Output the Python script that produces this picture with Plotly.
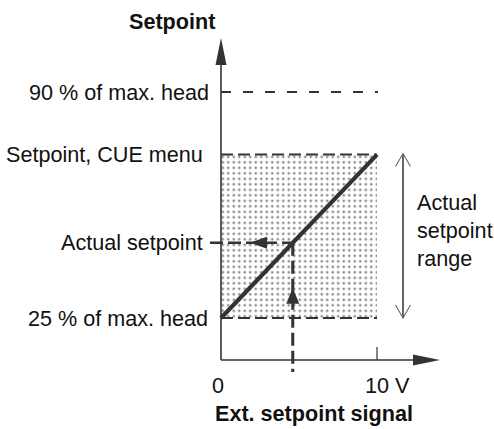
import plotly.graph_objects as go

# ---- values -------------------------------------------------------------
signal_range = [0, 10]            # ext. setpoint signal, V
head_limits = [25, 90]            # % of max. head
cue_setpoint = 72                 # setpoint set in the CUE menu, % of max. head
ext_signal = 4.6                  # present ext. setpoint signal, V
x_tick_labels = ["0", "10 V"]
level_labels = ["90 % of max. head", "Setpoint, CUE menu",
                "Actual setpoint", "25 % of max. head"]
range_label = "Actual<br>setpoint<br>range"
x_title = "Ext. setpoint signal"
y_title = "Setpoint"

low, high = head_limits
sig0, sig1 = signal_range
# setpoint follows the signal linearly between 25 % and the CUE value
actual_setpoint = low + (cue_setpoint - low) * (ext_signal - sig0) / (sig1 - sig0)

# ---- scales -------------------------------------------------------------
W, H = 494, 429
PX_PER_V = 15.6
PX_PER_PCT = 3.477
X0_PX = 221        # pixel column of 0 V
YLOW_PX = 318      # pixel row of the 25 % level


def dx(px):
    return px / PX_PER_V


def dy(px):
    return px / PX_PER_PCT


x_range = [sig0 - dx(X0_PX), sig0 + dx(W - X0_PX)]
y_range = [low - dy(H - YLOW_PX), low + dy(YLOW_PX)]

INK = "#333333"
TEXT = "#111111"
FONT = "Liberation Sans, Arial, sans-serif"
FS = 21.6

axis_y = low - dy(42)             # level of the horizontal axis
y_tip = high + dy(54)             # top of vertical axis arrow
x_tip = sig1 + dx(63)             # end of horizontal axis arrow
range_x = sig1 + dx(26)           # double arrow on the right


def tri(tx, ty, direction, length, half):
    """Filled arrow head with its tip at (tx, ty); sizes in pixels."""
    if direction == "up":
        pts = [(tx, ty), (tx - dx(half), ty - dy(length)), (tx + dx(half), ty - dy(length))]
    elif direction == "down":
        pts = [(tx, ty), (tx - dx(half), ty + dy(length)), (tx + dx(half), ty + dy(length))]
    elif direction == "left":
        pts = [(tx, ty), (tx + dx(length), ty + dy(half)), (tx + dx(length), ty - dy(half))]
    else:
        pts = [(tx, ty), (tx - dx(length), ty + dy(half)), (tx - dx(length), ty - dy(half))]
    return "M " + " L ".join(f"{x},{y}" for x, y in pts) + " Z"


def vee(tx, ty, direction, length, half):
    """Open V arrow head."""
    s = -1 if direction == "up" else 1
    return (f"M {tx - dx(half)},{ty + s * dy(length)} L {tx},{ty} "
            f"L {tx + dx(half)},{ty + s * dy(length)}")


fig = go.Figure()

# stippled band of possible setpoints
fig.add_trace(go.Scatter(
    x=[sig0, sig1, sig1, sig0, sig0], y=[low, low, cue_setpoint, cue_setpoint, low],
    mode="lines", fill="toself", fillcolor="white", line=dict(width=0),
    fillpattern=dict(shape=".", size=5.5, solidity=0.2, fgcolor="#1e1e1e", bgcolor="white"),
    hoverinfo="skip"))


def seg(xs, ys, width, dash="solid", color=INK):
    fig.add_trace(go.Scatter(x=xs, y=ys, mode="lines", hoverinfo="skip",
                             line=dict(color=color, width=width, dash=dash)))


# 90 % limit
seg([sig0, sig1 + dx(1)], [high, high], 2, "10px,12px")
# band borders
seg([sig0, sig1], [cue_setpoint, cue_setpoint], 2, "12px,5px")
seg([sig0, sig1], [low, low], 2, "12px,5px")
# read-off lines
seg([sig0 - dx(11), ext_signal], [actual_setpoint, actual_setpoint], 2.5, "13px,5px")
seg([ext_signal, ext_signal], [actual_setpoint, axis_y - dy(12)], 3, "13px,5px")
# characteristic
seg([sig0, sig1], [low, cue_setpoint], 4.2)
# axes
seg([sig0, sig0], [axis_y, y_tip - dy(20)], 1.6)
seg([sig0, x_tip - dx(20)], [axis_y, axis_y], 1.6)
seg([sig1, sig1], [axis_y, axis_y + dy(13)], 1.2)
# actual setpoint range
seg([range_x, range_x], [low, cue_setpoint], 1.2, color="#000000")

shapes = [
    dict(type="path", path=tri(sig0, y_tip, "up", 27, 5.5), fillcolor=INK, line=dict(width=0)),
    dict(type="path", path=tri(x_tip, axis_y, "right", 27, 5.5), fillcolor=INK, line=dict(width=0)),
    dict(type="path", path=tri(sig0 + dx(29), actual_setpoint, "left", 17, 6),
         fillcolor=INK, line=dict(width=0)),
    dict(type="path", path=tri(ext_signal, actual_setpoint - dy(45), "up", 16, 6.5),
         fillcolor=INK, line=dict(width=0)),
    dict(type="path", path=vee(range_x, cue_setpoint + dy(1), "up", 13, 7.5),
         line=dict(color="#666666", width=1.1)),
    dict(type="path", path=vee(range_x, low, "down", 13, 7.5),
         line=dict(color="#666666", width=1.1)),
]
for s in shapes:
    s.update(xref="x", yref="y", layer="above")

ann = []


def label(text, x, y, xanchor="center", xshift=0, yshift=0, bold=False, align="left"):
    ann.append(dict(text=f"<b>{text}</b>" if bold else text, x=x, y=y, xref="x", yref="y",
                    xanchor=xanchor, yanchor="middle", xshift=xshift, yshift=yshift,
                    showarrow=False, align=align,
                    font=dict(family=FONT, size=FS, color=TEXT)))


level_values = [high, cue_setpoint, actual_setpoint, low]
level_shifts = [-10, -16, -16, -11]
for txt, val, sh in zip(level_labels, level_values, level_shifts):
    label(txt, sig0, val, xanchor="right", xshift=sh)

label(y_title, sig0, y_tip, xanchor="right", xshift=-4, yshift=17, bold=True)
label(x_tick_labels[0], sig0, axis_y, xshift=-3, yshift=-25)
label(x_tick_labels[1], sig1, axis_y, xanchor="left", xshift=-14, yshift=-25)
label(x_title, (sig0 + sig1) / 2, axis_y, xshift=15, yshift=-53, bold=True)
label(range_label, range_x, (low + cue_setpoint) / 2, xanchor="left", xshift=12, yshift=6)

fig.update_layout(
    width=W, height=H, margin=dict(l=0, r=0, t=0, b=0),
    paper_bgcolor="white", plot_bgcolor="white", showlegend=False,
    xaxis=dict(range=x_range, visible=False, fixedrange=True),
    yaxis=dict(range=y_range, visible=False, fixedrange=True),
    shapes=shapes, annotations=ann,
)

fig.write_html("out.html")
